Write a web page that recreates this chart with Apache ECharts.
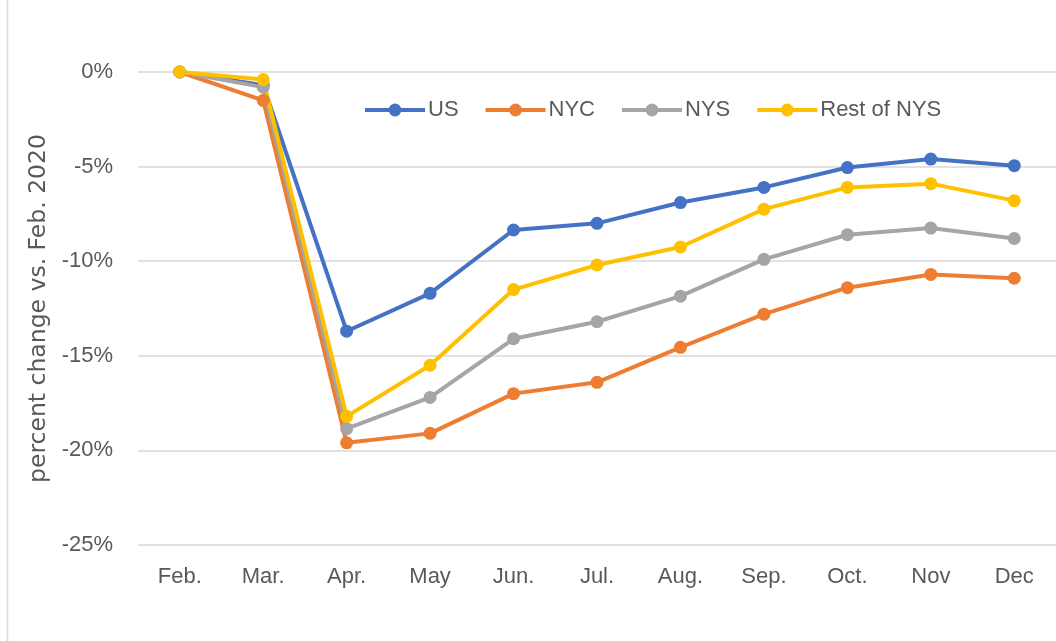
<!DOCTYPE html>
<html>
<head>
    <meta charset="utf-8">
    <script src="https://cdn.jsdelivr.net/npm/echarts@6/dist/echarts.min.js"></script>
</head>
<body style="margin: 0">
    <div id="container" style="height:641px;width:1056px"></div>
    <script type="text/javascript">
        var months = ['Feb.', 'Mar.', 'Apr.', 'May', 'Jun.', 'Jul.', 'Aug.', 'Sep.', 'Oct.', 'Nov', 'Dec'];
        var us = [0, -0.7, -13.7, -11.7, -8.35, -8.0, -6.9, -6.1, -5.05, -4.6, -4.95];
        var nyc = [0, -1.5, -19.6, -19.1, -17.0, -16.4, -14.55, -12.8, -11.4, -10.7, -10.9];
        var nys = [0, -0.8, -18.85, -17.2, -14.1, -13.2, -11.85, -9.9, -8.6, -8.25, -8.8];
        var restNys = [0, -0.4, -18.2, -15.5, -11.5, -10.2, -9.25, -7.25, -6.1, -5.9, -6.8];
        var yTicks = [0, -5, -10, -15, -20, -25];

        var dom = document.getElementById("container");
        var myChart = echarts.init(dom);
        var font = '"Liberation Sans", Arial, sans-serif';

        function line(name, data, color) {
            return {
                name: name,
                type: 'line',
                data: data,
                symbol: 'circle',
                symbolSize: 13,
                lineStyle: { width: 4, color: color },
                itemStyle: { color: color },
                emphasis: { disabled: true }
            };
        }

        var option = {
            animation: false,
            backgroundColor: '#fff',
            textStyle: { fontFamily: font },
            graphic: [{
                type: 'rect',
                shape: { x: 7.5, y: -10, width: 1100, height: 700 },
                style: { fill: 'none', stroke: '#d9d9d9', lineWidth: 1.5 }
            }],
            legend: {
                left: 358,
                top: 94,
                itemWidth: 60,
                itemHeight: 16,
                itemGap: 25,
                lineStyle: { width: 4 },
                textStyle: { fontSize: 22, color: '#595959', fontFamily: font, padding: [0, 0, 0, -2] },
                data: ['US', 'NYC', 'NYS', 'Rest of NYS']
            },
            grid: {
                left: 138,
                top: 72,
                width: 924,
                height: 473
            },
            xAxis: {
                type: 'category',
                data: months,
                axisLine: { show: false },
                axisTick: { show: false },
                axisLabel: { fontSize: 22, color: '#595959', margin: 21, fontFamily: font }
            },
            yAxis: {
                type: 'value',
                min: -25,
                max: 0,
                interval: 5,
                name: 'percent change vs. Feb. 2020',
                nameLocation: 'middle',
                nameGap: 82,
                nameTextStyle: { fontSize: 23.5, color: '#595959', fontFamily: '"DejaVu Sans", sans-serif' },
                axisLine: { show: false },
                axisTick: { show: false },
                axisLabel: {
                    fontSize: 22,
                    color: '#595959',
                    margin: 25,
                    fontFamily: font,
                    formatter: function (v) {
                        return yTicks.indexOf(v) >= 0 ? v + '%' : '';
                    }
                },
                splitLine: { lineStyle: { color: '#d9d9d9', width: 1.5 } }
            },
            series: [
                line('US', us, '#4472c4'),
                line('NYC', nyc, '#ed7d31'),
                line('NYS', nys, '#a5a5a5'),
                line('Rest of NYS', restNys, '#ffc000')
            ]
        };

        myChart.setOption(option);
    </script>
</body>
</html>
